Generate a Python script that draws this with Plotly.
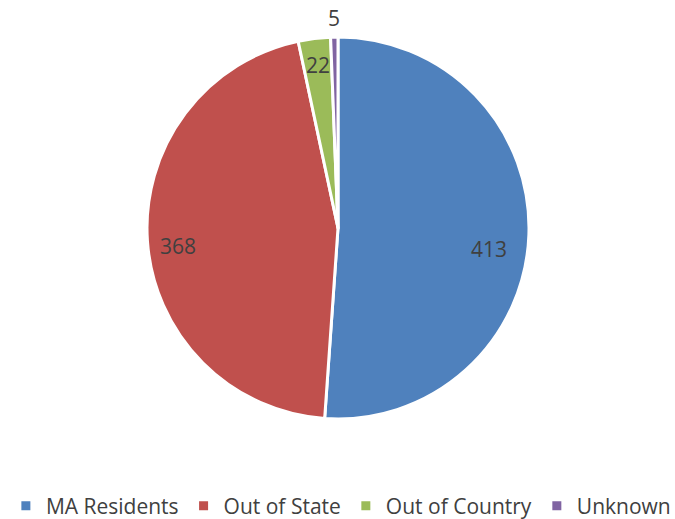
import math
import plotly.graph_objects as go

labels = ["MA Residents", "Out of State", "Out of Country", "Unknown"]
values = [413, 368, 22, 5]
colors = ["#4F81BD", "#C0504D", "#9BBB59", "#8064A2"]
label_radius = [0.80, 0.845, 0.86, 1.10]   # label distance as fraction of pie radius
label_shift_deg = [6, -2.5, 0, 0]           # small angular nudge of each label

W, H = 675, 519
T, B = 37, 100
CX, CY = 338, 228
R = (H - T - B) / 2
FONT = "Open Sans"

fig = go.Figure(go.Pie(
    labels=labels, values=values, sort=False, direction="clockwise", rotation=0,
    marker=dict(colors=colors, line=dict(color="white", width=3)),
    textinfo="none",
    domain=dict(x=[(CX - R) / W, (CX + R) / W], y=[0, 1]),
    hoverinfo="label+value",
))

total = sum(values)
cum = 0
for v, f, s in zip(values, label_radius, label_shift_deg):
    mid = (cum + v / 2) / total * 2 * math.pi + math.radians(s)
    cum += v
    px = CX + f * R * math.sin(mid)
    py = CY - f * R * math.cos(mid)
    fig.add_annotation(
        x=px / W, y=(H - B - py) / (H - T - B), xref="paper", yref="paper",
        text=str(v), showarrow=False, xanchor="center", yanchor="middle",
        font=dict(family=FONT, size=21, color="#404040"),
    )

fig.update_layout(
    width=W, height=H,
    margin=dict(l=0, r=0, t=T, b=B, autoexpand=False),
    paper_bgcolor="white", plot_bgcolor="white",
    showlegend=True,
    legend=dict(orientation="h", x=0.505, xanchor="center", xref="container",
                y=1 - 506 / H, yanchor="middle", yref="container",
                font=dict(family=FONT, size=21, color="#404040"),
                itemwidth=30, tracegroupgap=0),
)
fig.write_html(
    "out.html",
    config={"displayModeBar": False},
    post_script="document.body.style.margin='0';document.body.style.padding='0';",
)
